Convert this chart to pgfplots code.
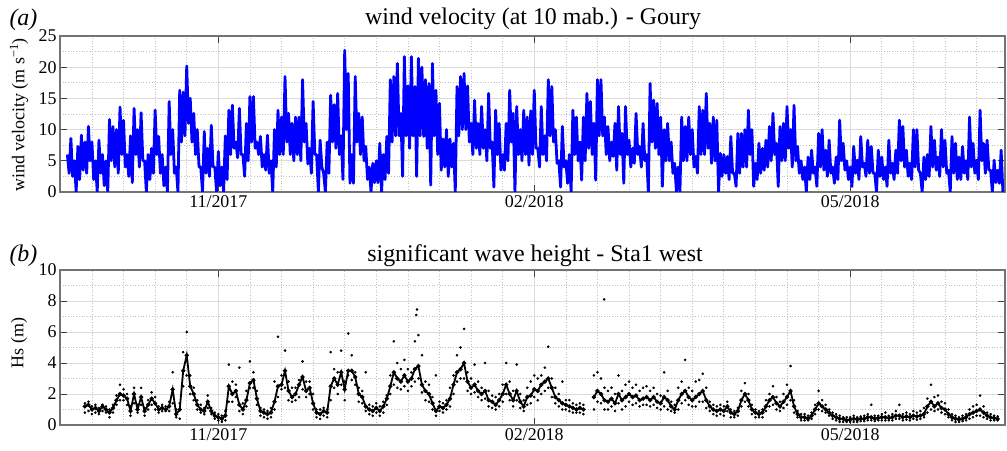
\documentclass[border=0pt]{standalone}
\usepackage{fontspec}
\setmainfont{Liberation Serif}
\usepackage{pgfplots}
\usepackage{pgfplotstable}
\pgfplotsset{compat=1.18}

% Wind speed at Goury: daily upper and lower values of the hourly record,
% x = days from 1 Nov 2017
\pgfplotstableread{
day speed
-43 6
-42.5 3
-42 8.6
-41.5 2.5
-41 5
-40.5 0
-40 7.3
-39.5 2
-39 9.1
-38.5 3.5
-38 8
-37.5 3
-37 10.5
-36.5 5
-36 8
-35.5 2
-35 5
-34.5 0
-34 8.3
-33.5 3
-33 6
-32.5 1
-32 5
-31.5 0
-31 11.6
-30.5 5
-30 10.5
-29.5 4
-29 10
-28.5 3
-28 13.6
-27.5 6
-27 11.5
-26.5 4
-26 6
-25.5 2.5
-25 9
-24.5 1.5
-24 13.4
-23.5 6
-23 10
-22.5 4
-22 12.7
-21.5 5
-21 5
-20.5 0
-20 6
-19.5 2
-19 7
-18.5 3
-18 13.1
-17.5 6
-17 8.9
-16.5 3
-16 6
-15.5 1
-15 4
-14.5 0
-14 14.5
-13.5 6
-13 10
-12.5 3
-12 4
-11.5 0
-11 16.3
-10.5 8
-10 16
-9.5 9
-9 20.2
-8.5 11
-8 15
-7.5 8
-7 12.6
-6.5 6
-6 10
-5.5 4
-5 4
-4.5 0
-4 9.7
-3.5 3
-3 7
-2.5 2.5
-2 10.7
-1.5 4
-1 4
-0.5 0
0 6.5
0.5 1
1 4
1.5 0
2 9
2.5 2
3 13.1
3.5 6
4 13.9
4.5 7
5 8
5.5 5.5
6 13.4
6.5 6
7 6
7.5 2.5
8 11
8.5 5
9 15.3
9.5 8
10 15.3
10.5 7
11 8
11.5 6
12 8.9
12.5 4
13 6
13.5 3.5
14 9.1
14.5 3
15 5
15.5 0
16 10
16.5 4
17 13.1
17.5 6
18 12
18.5 6
19 18.5
19.5 8
20 12.6
20.5 6
21 11
21.5 5
22 12
22.5 6
23 12
23.5 5
24 18
24.5 8
25 11
25.5 4.5
26 7
26.5 3
27 14.5
27.5 6
28 6
28.5 0
29 8.3
29.5 4
30 3
30.5 0
31 8
31.5 3
32 15.5
32.5 8
33 14
33.5 7
34 15.8
34.5 6
35 9
35.5 2
36 22.7
36.5 10
37 19
37.5 1.4
38 6
38.5 1.4
39 18.5
39.5 8
40 12.6
40.5 6
41 12
41.5 5
42 7.3
42.5 2
43 4
43.5 0
44 4.6
44.5 1.5
45 5
45.5 1.5
46 7.8
46.5 0
47 6
47.5 2
48 8.9
48.5 3
49 18
49.5 8
50 18.5
50.5 9
51 20.6
51.5 9
52 12.6
52.5 2.5
53 21.7
53.5 9
54 17
54.5 7
55 21.7
55.5 9
56 16.9
56.5 2.5
57 21.4
57.5 9
58 20
58.5 8.9
59 18
59.5 7
60 17.4
60.5 1.1
61 20.6
61.5 9
62 16.3
62.5 6
63 14.2
63.5 3.5
64 8.5
64.5 4
65 10
65.5 2.5
66 8.5
66.5 4
67 7.8
67.5 0
68 16.9
68.5 9
69 18.5
69.5 10
70 19
70.5 10
71 17
71.5 8
72 11
72.5 6
73 14.7
73.5 7
74 11
74.5 6
75 13.7
75.5 7
76 10
76.5 5
77 15.8
77.5 7
78 8
78.5 0.8
79 13.1
79.5 6
80 11
80.5 3.5
81 6
81.5 3.5
82 11
82.5 5
83 16.3
83.5 8
84 12.6
84.5 0
85 13.7
85.5 6
86 10
86.5 5
87 13.1
87.5 6
88 12
88.5 4.3
89 13
89.5 6
90 16.3
90.5 7
91 7
91.5 4
92 13.7
92.5 6
93 9
93.5 5
94 18
94.5 9
95 16.9
95.5 8
96 10
96.5 4.6
97 5
97.5 0.8
98 10.5
98.5 4
99 5
99.5 1.4
100 6
100.5 0
101 13.1
101.5 6
102 12
102.5 5
103 8
103.5 1.9
104 12
104.5 5
105 15.8
105.5 7
106 14.5
106.5 6
107 11
107.5 1.9
108 18
108.5 9
109 18
109.5 9
110 12
110.5 6
111 10.5
111.5 5
112 8
112.5 5.7
113 11
113.5 3.5
114 13.7
114.5 6
115 9.4
115.5 1.4
116 13.7
116.5 6
117 8.3
117.5 4
118 7
118.5 4.6
119 12.6
119.5 6
120 7.3
120.5 4
121 11
121.5 5
122 6
122.5 0
123 17.4
123.5 8
124 14.7
124.5 7
125 14.2
125.5 6
126 12
126.5 0.9
127 10
127.5 5
128 11
128.5 5
129 8
129.5 3
130 4.6
130.5 0
131 4
131.5 0
132 12
132.5 5
133 10.5
133.5 5
134 12
134.5 6
135 10
135.5 4
136 5.7
136.5 3
137 13.7
137.5 6
138 13.1
138.5 6
139 15.8
139.5 7
140 11
140.5 4.6
141 12
141.5 5
142 11.5
142.5 0
143 6.2
143.5 2.5
144 6
144.5 3
145 5.7
145.5 2
146 8.9
146.5 3
147 3
147.5 0.9
148 9.4
148.5 3
149 9.4
149.5 4
150 10
150.5 4
151 13.1
151.5 6
152 10
152.5 0.9
153 4.6
153.5 2
154 7.8
154.5 3
155 7
155.5 3.5
156 8.3
156.5 4
157 10.5
157.5 5
158 12.6
158.5 6
159 7.8
159.5 0.9
160 10.5
160.5 5
161 11
161.5 5
162 13.7
162.5 7
163 10
163.5 4
164 13.9
164.5 5
165 7.3
165.5 3
166 5
166.5 2
167 4
167.5 0
168 5.6
168.5 2
169 6.7
169.5 3
170 4
170.5 0.9
171 9.4
171.5 4
172 10
172.5 3.5
173 6.7
173.5 2.5
174 8.3
174.5 3
175 4
175.5 1.4
176 5.6
176.5 2
177 11.5
177.5 5
178 7.8
178.5 3.5
179 5
179.5 2
180 4
180.5 0.9
181 7.3
181.5 3
182 5.1
182.5 2
183 8.9
183.5 4
184 4.6
184.5 2.5
185 8.3
185.5 3
186 7.3
186.5 3
187 3
187.5 0
188 6.7
188.5 2.5
189 5.6
189.5 2
190 4
190.5 0.9
191 8.3
191.5 3
192 4.6
192.5 2
193 6.7
193.5 3
194 11.5
194.5 5
195 10.5
195.5 4
196 6.7
196.5 2.5
197 4.6
197.5 2
198 10
198.5 4
199 10
199.5 3.5
200 3
200.5 0
201 5.6
201.5 2
202 6
202.5 2.5
203 10.5
203.5 4
204 8.3
204.5 3.5
205 5.6
205.5 2.5
206 10
206.5 4
207 8.3
207.5 3
208 3.5
208.5 0
209 8.9
209.5 3
210 7.8
210.5 2
211 5.6
211.5 2
212 7.3
212.5 3
213 5
213.5 2
214 12
214.5 4
215 7.8
215.5 3
216 5.1
216.5 2
217 13.1
217.5 5
218 7.8
218.5 3
219 8.3
219.5 3.5
220 3.5
220.5 0
221 5.1
221.5 1.5
222 3.5
222.5 1.4
223 6.7
223.5 0
}\windtbl

% Significant wave height at Sta1 west: three readings per day (m)
\pgfplotstableread{
day a b c
-38 1.2 1.4 0.8
-37 1.3 1.5 0.9
-36 1.0 1.2 0.7
-35 1.1 1.3 0.8
-34 0.9 1.1 0.7
-33 1.2 1.3 0.9
-32 1.0 1.2 0.8
-31 0.8 1.0 0.5
-30 1.1 1.3 0.8
-29 1.6 1.9 1.3
-28 2.0 2.6 1.6
-27 1.9 2.3 1.6
-26 1.7 2.0 1.3
-25 0.9 1.2 0.6
-24 2.0 2.4 1.4
-23 1.0 1.3 0.8
-22 1.8 2.4 1.3
-21 0.9 1.1 0.6
-20 1.3 1.6 1.0
-19 1.7 2.1 1.3
-18 1.4 1.8 1.0
-17 1.0 1.2 0.8
-16 1.1 1.3 0.9
-15 1.0 1.2 0.9
-14 1.2 1.5 0.9
-13 2.3 3.4 1.4
-12 0.7 1.0 0.5
-11 1.0 1.4 0.4
-10 3.5 4.7 2.5
-9 4.5 6.0 3.2
-8 2.5 3.2 2.0
-7 2.0 2.4 1.6
-6 1.3 1.6 1.0
-5 1.0 1.3 0.8
-4 0.9 1.1 0.7
-3 1.5 1.9 1.1
-2 0.9 1.1 0.7
-1 0.6 0.8 0.4
0 0.5 0.7 0.3
1 0.4 0.6 0.2
2 0.6 0.9 0.3
3 2.5 3.9 1.5
4 2.0 2.8 1.5
5 2.2 2.6 1.8
6 1.3 3.7 0.9
7 1.0 1.4 0.7
8 1.6 2.2 1.2
9 2.7 4.1 2.4
10 2.9 3.4 2.4
11 1.7 2.2 1.3
12 0.9 1.1 0.6
13 0.8 1.0 0.5
14 0.7 0.9 0.4
15 0.8 1.1 0.5
16 1.5 2.8 1.0
17 2.5 5.7 1.8
18 2.6 3.2 2.3
19 3.5 4.8 2.4
20 2.2 2.8 1.6
21 1.8 2.4 1.5
22 2.0 2.4 1.6
23 2.6 2.9 1.8
24 3.1 4.1 2.3
25 2.2 2.8 1.8
26 2.4 2.8 2.0
27 1.4 2.0 1.0
28 0.8 1.0 0.5
29 0.7 1.0 0.4
30 0.9 1.1 0.6
31 0.8 1.0 0.5
32 2.5 4.7 1.6
33 3.0 3.6 2.4
34 2.6 3.4 2.0
35 3.4 4.8 2.6
36 2.3 2.8 1.6
37 3.5 5.9 3.2
38 3.5 4.5 2.9
39 3.1 3.4 2.6
40 2.0 2.4 1.5
41 1.8 2.2 1.4
42 1.2 3.4 0.9
43 1.0 1.3 0.7
44 0.9 1.2 0.6
45 1.1 1.4 0.8
46 0.9 1.2 0.6
47 1.2 1.5 0.8
48 1.7 1.9 1.3
49 2.5 3.2 2.0
50 3.4 5.4 2.6
51 3.0 4.0 2.4
52 2.8 3.6 2.3
53 3.2 4.2 2.5
54 2.8 3.6 2.2
55 3.0 3.4 2.5
56 3.6 5.4 2.8
57 3.8 5.8 3.0
58 2.6 4.5 2.1
59 2.2 2.8 1.6
60 2.0 2.6 1.5
61 1.4 1.8 1.0
62 0.9 3.2 0.6
63 1.2 1.5 0.9
64 1.1 1.4 0.8
65 1.3 1.6 1.0
66 1.7 2.4 1.2
67 2.6 3.2 2.0
68 3.4 4.5 2.8
69 3.6 5.0 3.0
70 4.0 6.2 3.0
71 2.8 3.4 2.2
72 2.4 3.0 2.0
73 2.6 3.9 2.1
74 2.2 2.8 1.8
75 2.0 2.4 1.6
76 2.2 4.0 1.7
77 1.6 2.2 1.2
78 1.5 1.9 1.1
79 1.3 1.8 1.0
80 1.6 2.0 1.2
81 2.0 2.6 1.5
82 2.6 4.0 2.0
83 2.0 2.8 1.6
84 1.6 2.2 1.2
85 2.2 3.9 1.6
86 1.5 2.0 1.1
87 1.2 1.6 0.9
88 1.8 2.4 1.3
89 1.9 2.8 1.4
90 2.3 3.2 1.8
91 2.2 3.0 1.6
92 2.6 3.2 2.0
93 2.8 3.7 2.2
94 3.0 5.05 2.4
95 2.4 3.0 1.8
96 1.8 2.4 1.4
97 1.6 2.0 1.2
98 1.4 2.8 1.0
99 1.3 1.6 1.0
100 1.2 1.6 0.9
101 1.1 1.4 0.8
102 1.0 1.3 0.8
103 1.1 1.4 0.8
104 1.0 1.3 0.7
105 nan nan nan
106 nan nan nan
107 1.8 3.2 1.0
108 2.2 3.4 1.5
109 2.0 3.0 1.4
110 1.6 2.4 1.0
111 1.5 2.2 1.0
112 1.7 2.4 1.2
113 1.4 2.0 0.9
114 2.0 3.2 1.4
115 1.6 2.2 1.0
116 1.8 2.6 1.2
117 2.0 2.8 1.5
118 1.8 2.4 1.3
119 1.9 2.6 1.4
120 1.6 2.2 1.2
121 1.7 2.4 1.3
122 1.8 2.5 1.3
123 1.6 2.2 1.2
124 1.8 2.4 1.3
125 1.5 2.0 1.1
126 1.4 1.9 1.0
127 1.8 3.4 1.2
128 1.6 2.2 1.0
129 1.2 1.5 0.9
130 1.0 1.3 0.8
131 1.6 2.4 1.0
132 2.0 2.8 1.4
133 2.2 4.2 1.6
134 1.8 2.4 1.3
135 1.6 2.2 1.2
136 1.8 2.8 1.2
137 2.0 2.9 1.5
138 2.2 3.3 1.5
139 1.6 2.4 1.1
140 1.2 1.5 0.9
141 1.0 1.3 0.7
142 0.9 1.2 0.6
143 1.0 1.3 0.7
144 0.9 1.2 0.6
145 1.2 1.5 0.9
146 0.8 1.0 0.5
147 0.7 0.9 0.5
148 0.9 1.1 0.6
149 1.6 2.2 1.2
150 2.0 2.7 1.5
151 1.6 2.0 1.2
152 1.0 1.3 0.7
153 0.8 1.0 0.5
154 0.7 0.9 0.5
155 0.8 1.0 0.5
156 1.2 1.6 0.9
157 1.6 2.0 1.2
158 1.8 2.5 1.3
159 1.4 1.8 1.0
160 1.2 1.5 0.9
161 1.5 2.0 1.1
162 1.8 2.6 1.3
163 2.2 3.8 1.6
164 1.2 1.6 0.8
165 0.7 0.9 0.5
166 0.5 0.7 0.3
167 0.5 0.7 0.3
168 0.4 0.6 0.3
169 0.6 0.8 0.4
170 1.0 1.3 0.7
171 1.4 2.2 1.0
172 1.2 1.6 0.9
173 1.0 1.3 0.8
174 0.8 1.0 0.6
175 0.6 0.8 0.4
176 0.5 0.7 0.3
177 0.4 0.6 0.2
178 0.4 0.5 0.2
179 0.3 0.5 0.2
180 0.35 0.5 0.2
181 0.4 0.6 0.2
182 0.35 0.5 0.2
183 0.4 0.55 0.25
184 0.4 0.6 0.25
185 0.5 0.7 0.3
186 0.5 1.3 0.3
187 0.4 0.6 0.25
188 0.45 0.6 0.3
189 0.5 0.7 0.3
190 0.5 0.8 0.3
191 0.45 0.6 0.3
192 0.5 0.7 0.3
193 0.6 0.9 0.4
194 0.6 1.3 0.4
195 0.5 0.7 0.3
196 0.55 0.8 0.35
197 0.5 0.7 0.3
198 0.6 0.9 0.4
199 0.55 0.8 0.35
200 0.6 0.9 0.4
201 0.7 1.1 0.5
202 1.2 1.7 0.8
203 1.5 2.6 1.0
204 1.2 1.8 0.9
205 1.4 1.9 1.0
206 1.1 1.5 0.8
207 1.0 1.4 0.7
208 0.7 1.0 0.5
209 0.5 0.7 0.3
210 0.4 0.6 0.2
211 0.35 0.5 0.2
212 0.4 0.6 0.25
213 0.5 0.7 0.3
214 0.7 1.0 0.4
215 0.8 1.2 0.5
216 0.9 1.3 0.6
217 1.0 1.9 0.6
218 0.8 1.2 0.5
219 0.6 0.8 0.4
220 0.5 0.7 0.3
221 0.45 0.6 0.3
222 0.4 0.55 0.3
}\hstbl

% isolated high readings
\pgfplotstableread{
day hs
56.4 7.1
56.6 7.45
109.9 8.1
}\hsout

\newcommand{\tickfont}{\fontsize{18}{21}\selectfont}
\newcommand{\titlefont}{\fontsize{24}{28}\selectfont}

\pgfplotsset{
  panel/.style={
    scale only axis, width=945bp, anchor=south west,
    xmin=-45.1, xmax=224.1,
    xtick={0,90,180}, xticklabels={11/2017,02/2018,05/2018},
    minor xtick={-45,-36,...,216},
    grid=both,
    major grid style={draw=black!14, line width=0.7bp},
    minor grid style={draw=black!25, line width=0.7bp, dotted},
    tick align=inside, tick pos=both,
    major tick length=7bp, minor tick length=0pt,
    axis line style={draw=black!55, line width=1.1bp},
    tick style={draw=black!75, line width=0.9bp},
    ticklabel style={font=\tickfont},
    /pgf/number format/assume math mode=true,
    unbounded coords=jump,
  }
}

\begin{document}
\begin{tikzpicture}
\useasboundingbox (0,0) rectangle (1007bp,451bp);

% (a) wind velocity
\begin{axis}[panel, at={(60bp,259bp)}, height=156bp,
  ymin=0, ymax=25, ytick={0,5,...,25}, minor ytick={2.5,7.5,...,22.5}]
  \addplot[color={rgb,255:red,0;green,0;blue,255}, line width=2.8bp, sharp plot, line join=round]
    table[x=day, y=speed] {\windtbl};
\end{axis}

% (b) significant wave height
\begin{axis}[panel, at={(60bp,26bp)}, height=155bp,
  ymin=0, ymax=10, ytick={0,2,...,10}, minor ytick={1,3,...,9}]
  \addplot[black, line width=1.8bp, mark=*, mark size=1.1bp]
    table[x=day, y=a] {\hstbl};
  \addplot[black, only marks, mark=*, mark size=1.1bp]
    table[x=day, y=b] {\hstbl};
  \addplot[black, only marks, mark=*, mark size=1.1bp]
    table[x=day, y=c] {\hstbl};
  \addplot[black, only marks, mark=*, mark size=1.1bp]
    table[x=day, y=hs] {\hsout};
\end{axis}

% titles, panel letters and axis labels
\node[anchor=base, font=\titlefont] at (533bp,426bp) {wind velocity (at 10 mab.) - Goury};
\node[anchor=base, font=\titlefont] at (535bp,189bp) {significant wave height - Sta1 west};
\node[anchor=base west, font=\titlefont\itshape] at (6bp,425bp) {(a)};
\node[anchor=base west, font=\titlefont\itshape] at (6bp,189bp) {(b)};
\node[rotate=90, font=\tickfont] at (19bp,336bp) {wind velocity (m s\textsuperscript{−1})};
\node[rotate=90, font=\tickfont] at (19bp,108bp) {Hs (m)};
\end{tikzpicture}
\end{document}
